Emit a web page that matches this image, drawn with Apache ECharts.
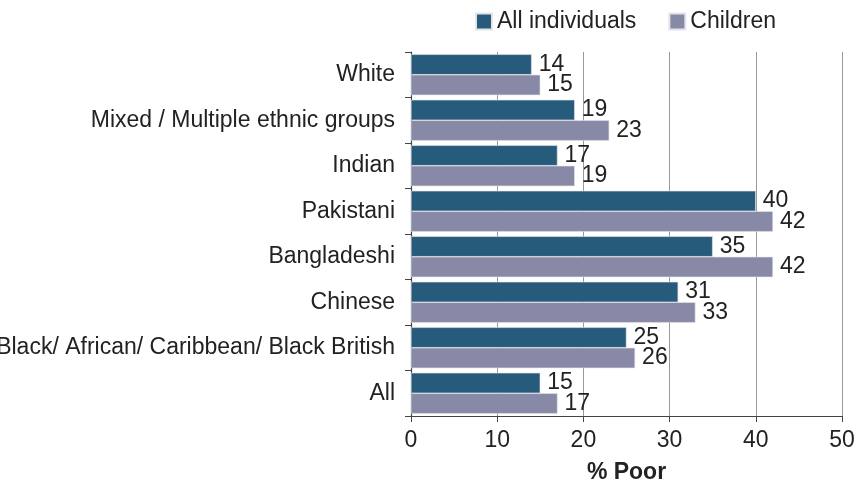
<!DOCTYPE html>
<html>
<head>
<meta charset="UTF-8">
<title></title>
<script src="https://cdn.jsdelivr.net/npm/echarts@6/dist/echarts.min.js"></script>
<style>
	html, body { margin: 0; padding: 0; background: #fff; }
	#chart { width: 856px; height: 486px; }
</style>
</head>
<body>
<div id="chart"></div>
<script>
	var categories = ['White', 'Mixed / Multiple ethnic groups', 'Indian', 'Pakistani', 'Bangladeshi', 'Chinese', 'Black/ African/ Caribbean/ Black British', 'All'];
	var allIndividuals = [14, 19, 17, 40, 35, 31, 25, 15];
	var children = [15, 23, 19, 42, 42, 33, 26, 17];
	var xTicks = [0, 10, 20, 30, 40, 50];

	var font = 'Liberation Sans, Arial, sans-serif';
	var fs = 23;
	var chart = echarts.init(document.getElementById('chart'));

	function barSeries(name, data, color) {
		return {
			name: name,
			type: 'bar',
			data: data,
			barGap: '0%',
			barCategoryGap: '10%',
			itemStyle: { color: color, borderColor: '#e4e4ea', borderWidth: 0.6 },
			label: {
				show: true,
				position: 'right',
				distance: 7,
				color: '#222',
				fontSize: fs,
				fontFamily: font
			}
		};
	}

	chart.setOption({
		animation: false,
		textStyle: { fontFamily: font },
		legend: {
			top: 5,
			left: 470,
			itemWidth: 16,
			itemHeight: 16,
			itemGap: 32,
			icon: 'rect',
			textStyle: { fontSize: fs, color: '#222', fontFamily: font },
			data: ['All individuals', 'Children']
		},
		grid: { left: 411, right: 14, top: 52, bottom: 70, outerBoundsMode: 'none', containLabel: false },
		xAxis: {
			type: 'value',
			min: xTicks[0],
			max: xTicks[xTicks.length - 1],
			interval: 10,
			name: '% Poor',
			nameLocation: 'middle',
			nameGap: 45,
			nameTextStyle: { fontSize: fs, fontWeight: 'bold', color: '#222', fontFamily: font },
			axisLine: { show: true, lineStyle: { color: '#444', width: 1.2 } },
			axisTick: { show: true, length: 6, lineStyle: { color: '#444' } },
			axisLabel: { fontSize: fs, color: '#222', margin: 13, fontFamily: font },
			splitLine: { show: true, lineStyle: { color: '#999', width: 1 } }
		},
		yAxis: {
			type: 'category',
			data: categories,
			inverse: true,
			axisLine: { show: true, lineStyle: { color: '#444', width: 1.2 } },
			axisTick: { show: true, length: 6, lineStyle: { color: '#444' } },
			axisLabel: { fontSize: fs, color: '#222', margin: 16, fontFamily: font }
		},
		series: [
			barSeries('All individuals', allIndividuals, '#275b7b'),
			barSeries('Children', children, '#8789a7')
		]
	});
</script>
</body>
</html>
